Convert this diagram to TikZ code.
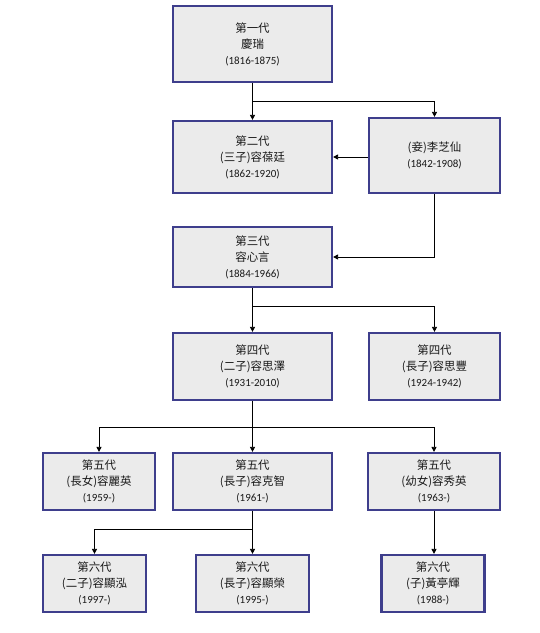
\documentclass[tikz,border=0pt]{standalone}
\usepackage{fontspec}
\setmainfont{Carlito}
\newfontfamily\cjk{Noto Sans CJK TC}
\usetikzlibrary{arrows.meta}
\definecolor{boxline}{RGB}{62,62,140}
\definecolor{boxfill}{RGB}{235,235,235}
\tikzset{
  person/.style={draw=boxline, fill=boxfill, line width=2.2bp, inner sep=0pt,
    align=center, font=\fontsize{11.5}{16}\selectfont, text=black!90},
  link/.style={draw=black, line width=0.8bp, -{Triangle[length=5bp,width=5bp]}}
}
\newcommand{\pname}[3]{{\cjk #1}\\{\cjk #2}\\{\fontsize{11}{16}\selectfont #3}}
\begin{document}
\begin{tikzpicture}[x=1bp,y=-1bp]
\useasboundingbox (0,0) rectangle (540,633);
\fill[white] (0,0) rectangle (540,633);
% generation 1
\node[person, minimum width=159bp, minimum height=76bp] (g1) at (252.5,44) {\pname{第一代}{慶瑞}{(1816-1875)}};
% generation 2
\node[person, minimum width=159bp, minimum height=72bp] (g2) at (252.5,157) {\pname{第二代}{(三子)容葆廷}{(1862-1920)}};
\node[person, minimum width=131bp, minimum height=75bp, align=center] (qie) at (434.5,155.5) {{\cjk (妾)李芝仙}\\{\fontsize{11}{16}\selectfont (1842-1908)}};
% generation 3
\node[person, minimum width=159bp, minimum height=60bp] (g3) at (252.5,257) {\pname{第三代}{容心言}{(1884-1966)}};
% generation 4
\node[person, minimum width=159bp, minimum height=67bp] (g4a) at (252.5,366.5) {\pname{第四代}{(二子)容思澤}{(1931-2010)}};
\node[person, minimum width=131bp, minimum height=67bp] (g4b) at (434.5,366.5) {\pname{第四代}{(長子)容思豐}{(1924-1942)}};
% generation 5
\node[person, minimum width=112bp, minimum height=57bp] (g5a) at (99,481.5) {\pname{第五代}{(長女)容麗英}{(1959-)}};
\node[person, minimum width=159bp, minimum height=57bp] (g5b) at (252.5,481.5) {\pname{第五代}{(長子)容克智}{(1961-)}};
\node[person, minimum width=132bp, minimum height=57bp] (g5c) at (434,481.5) {\pname{第五代}{(幼女)容秀英}{(1963-)}};
% generation 6
\node[person, minimum width=103bp, minimum height=57bp] (g6a) at (94.5,583.5) {\pname{第六代}{(二子)容顯泓}{(1997-)}};
\node[person, minimum width=113bp, minimum height=57bp] (g6b) at (252.5,583.5) {\pname{第六代}{(長子)容顯榮}{(1995-)}};
\node[person, minimum width=103bp, minimum height=57bp] (g6c) at (433,583.5) {\pname{第六代}{(子)黃亭輝}{(1988-)}};
% connectors
\draw[link] (g1.south) -- (g2.north);
\draw[link] (g1.south) -- ++(0,18) -| (qie.north);
\draw[link] (qie.west |- g2.east) -- (g2.east);
\draw[link] (qie.south) |- (g3.east);
\draw[link] (g3.south) -- (g4a.north);
\draw[link] (g3.south) -- ++(0,18) -| (g4b.north);
\draw[link] (g4a.south) -- (g5b.north);
\draw[link] (g4a.south) -- ++(0,26) -| (g5a.north);
\draw[link] (g4a.south) -- ++(0,26) -| (g5c.north);
\draw[link] (g5b.south) -- (g6b.north);
\draw[link] (g5b.south) -- ++(0,18) -| (g6a.north);
\draw[link] (g5c.south) -- (g5c.south |- g6c.north);
\end{tikzpicture}
\end{document}
